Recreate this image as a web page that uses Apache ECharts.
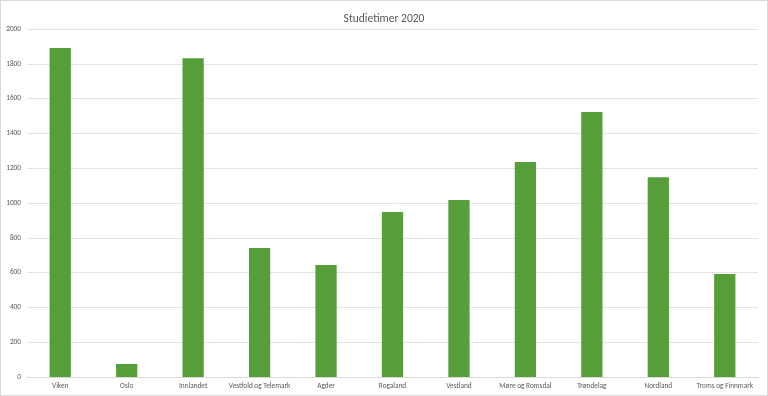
<!DOCTYPE html>
<html><head><meta charset="utf-8">
<script src="https://cdn.jsdelivr.net/npm/echarts@6/dist/echarts.min.js"></script>
<style>html,body{margin:0;padding:0;background:#fff}#c{width:766px;height:394px;border:1px solid #d9d9d9}</style>
</head><body><div id="c"></div>
<script>
const categories = ["Viken","Oslo","Innlandet","Vestfold og Telemark","Agder","Rogaland","Vestland","Møre og Romsdal","Trøndelag","Nordland","Troms og Finnmark"];
const studietimer = [1891, 75, 1832, 741, 644, 948, 1017, 1236, 1523, 1148, 592];
const yTicks = [0,200,400,600,800,1000,1200,1400,1600,1800,2000];
const FONT = "Carlito, 'Liberation Sans Narrow', 'Open Sans', sans-serif";
const chart = echarts.init(document.getElementById('c'));
chart.setOption({
  animation:false,
  title:{text:'Studietimer 2020',left:'center',top:7,textStyle:{fontFamily:FONT,fontSize:11.5,fontWeight:'normal',color:'#595959'}},
  grid:{left:26,right:9,top:28,bottom:18},
  xAxis:{type:'category',data:categories,axisLine:{lineStyle:{color:'#d9d9d9'}},axisTick:{show:false},
    axisLabel:{fontFamily:FONT,fontSize:7.3,color:'#595959',margin:6,interval:0}},
  yAxis:{type:'value',min:yTicks[0],max:yTicks[yTicks.length-1],interval:200,
    axisLine:{show:false},axisTick:{show:false},
    splitLine:{lineStyle:{color:'#e3e3e3'}},
    axisLabel:{fontFamily:FONT,fontSize:7.3,color:'#595959',margin:6,formatter:v=>String(v)}},
  series:[{type:'bar',data:studietimer,barWidth:'32%',itemStyle:{color:'#559E39'}}]
});
</script></body></html>
